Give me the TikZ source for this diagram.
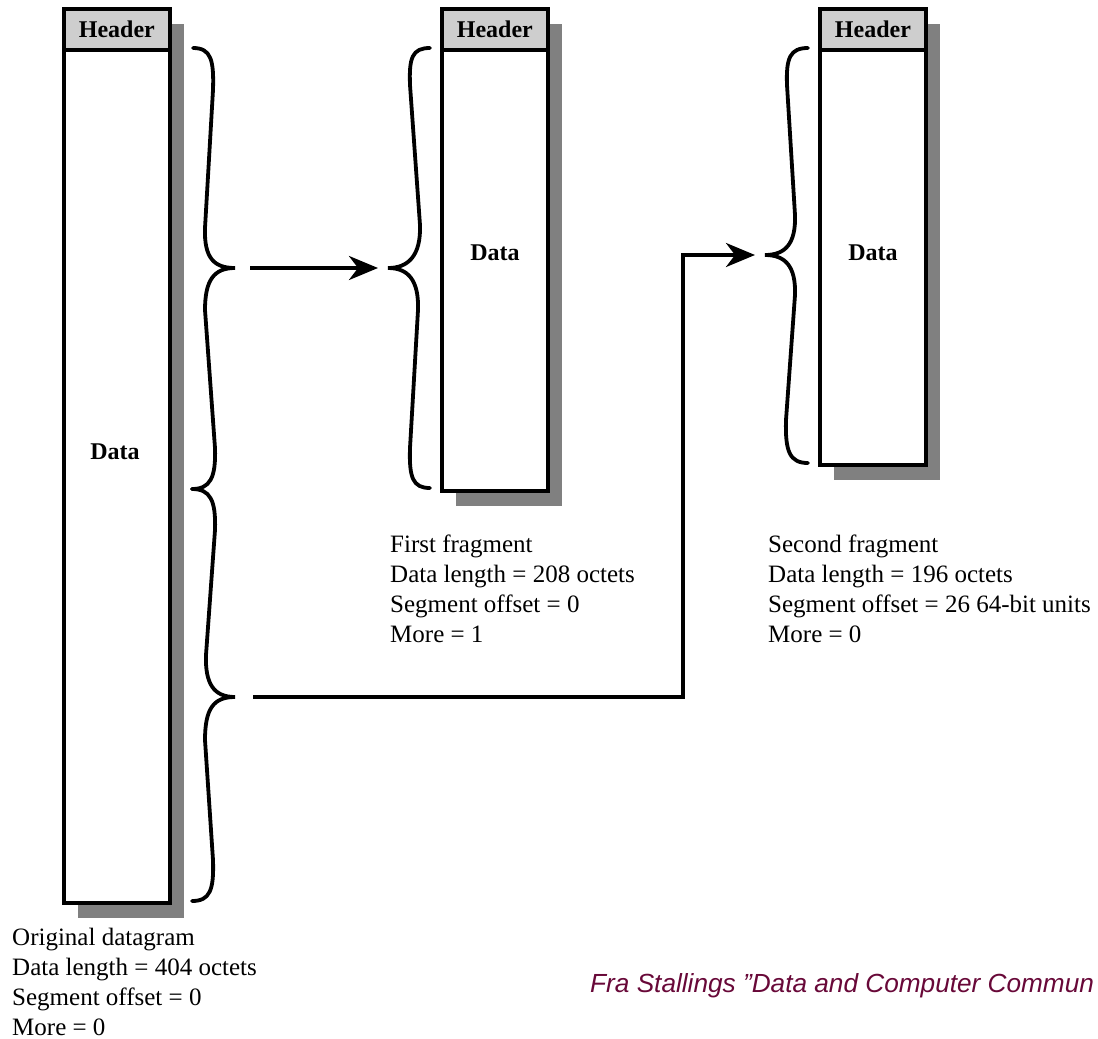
\documentclass[tikz,border=0pt]{standalone}
\usepackage{fontspec}
\setmainfont{Liberation Serif}
\newfontfamily\creditfont{Liberation Sans}
\usetikzlibrary{arrows.meta,shadows}
\definecolor{shadowgray}{RGB}{128,128,128}
\definecolor{headergray}{RGB}{206,206,206}
\definecolor{creditred}{RGB}{104,8,56}
\begin{document}
\begin{tikzpicture}[x=1pt,y=-1pt,
  packet/.style={draw, line width=3.8pt, fill=white, inner sep=0pt,
    anchor=north west, minimum width=106pt,
    drop shadow={shadow xshift=14pt, shadow yshift=-15pt, fill=shadowgray, opacity=1}},
  hdr/.style={draw, line width=3.8pt, fill=headergray, inner sep=0pt,
    anchor=north west, minimum width=106pt, minimum height=41pt,
    font=\fontsize{24}{28}\selectfont\bfseries},
  lbl/.style={font=\fontsize{24}{28}\selectfont\bfseries, inner sep=0pt},
  info/.style={font=\fontsize{25}{30}\selectfont, align=left, inner sep=0pt, anchor=base west},
  brace/.style={line width=3.8pt, line cap=round},
  flow/.style={line width=3.8pt, -{Stealth[length=29pt, width=24pt, inset=9pt]}}
]
\clip (0,0) rectangle (1098,1039);

% original datagram
\node[packet, minimum height=894pt] (orig) at (62,7) {};
\node[hdr] (orighdr) at (orig.north west) {Header};
\node[lbl] (origdata) at (115,452) {Data};

% first fragment
\node[packet, minimum height=482pt] (frag1) at (440,7) {};
\node[hdr] (frag1hdr) at (frag1.north west) {Header};
\node[lbl] (frag1data) at (495,253) {Data};

% second fragment
\node[packet, minimum height=456pt] (frag2) at (818,7) {};
\node[hdr] (frag2hdr) at (frag2.north west) {Header};
\node[lbl] (frag2data) at (873,253) {Data};

% braces splitting the original data field
\draw[brace] (193,48) .. controls (211,48) and (214,60) .. (213,90)
  -- (205,228) .. controls (204,258) and (214,268) .. (235,268)
  .. controls (214,268) and (205,280) .. (205,310)
  -- (215,448) .. controls (216,478) and (210,489) .. (192,489);
\draw[brace] (192,489) .. controls (210,489) and (216,500) .. (215,530)
  -- (206,655) .. controls (205,684) and (214,697) .. (235,697)
  .. controls (214,697) and (205,708) .. (205,740)
  -- (213,860) .. controls (214,890) and (210,901) .. (192,901);

% brace of the first fragment
\draw[brace] (430,48) .. controls (412,48) and (409,58) .. (410,85)
  -- (420,225) .. controls (421,256) and (408,268) .. (388,268)
  .. controls (408,268) and (419,280) .. (418,310)
  -- (410,448) .. controls (409,478) and (413,488) .. (430,488);

% brace of the second fragment
\draw[brace] (808,48) .. controls (790,48) and (786,58) .. (787,85)
  -- (795,215) .. controls (796,244) and (785,255) .. (765,255)
  .. controls (785,255) and (796,266) .. (795,295)
  -- (786,420) .. controls (785,452) and (790,463) .. (808,463);

% arrows
\coordinate (a1s) at (250,268);
\coordinate (a1e) at (378,268);
\coordinate (a2s) at (253,697);
\coordinate (elbow) at (683,255);
\coordinate (a2e) at (755,255);
\draw[flow] (a1s) -- (a1e);
\draw[flow] (a2s) -| (elbow) -- (a2e);

% descriptions (anchored at the baseline of the last line)
\node[info] (originfo) at (12,1035) {Original datagram\\Data length = 404 octets\\Segment offset = 0\\More = 0};
\node[info] (frag1info) at (390,642) {First fragment\\Data length = 208 octets\\Segment offset = 0\\More = 1};
\node[info] (frag2info) at (768,642) {Second fragment\\Data length = 196 octets\\Segment offset = 26 64-bit units\\More = 0};

% source note
\node[anchor=base west, inner sep=0pt, text=creditred,
  font=\creditfont\itshape\fontsize{26.2}{30}\selectfont] (credit) at (590,992)
  {Fra Stallings ”Data and Computer Commun};
\end{tikzpicture}
\end{document}
